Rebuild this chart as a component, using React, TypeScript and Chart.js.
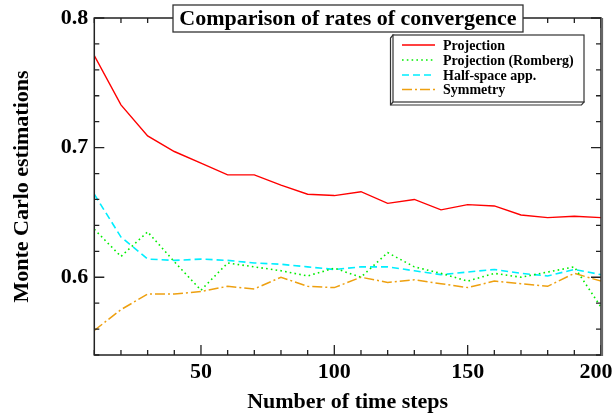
import React, { useEffect, useRef } from "react";
import { Chart, registerables } from "chart.js";

Chart.register(...registerables);

const steps = [10, 20, 30, 40, 50, 60, 70, 80, 90, 100, 110, 120, 130, 140, 150, 160, 170, 180, 190, 200];
const projection = [0.771, 0.733, 0.709, 0.697, 0.688, 0.679, 0.679, 0.671, 0.664, 0.663, 0.666, 0.657, 0.660, 0.652, 0.656, 0.655, 0.648, 0.646, 0.647, 0.646];
const romberg = [0.637, 0.616, 0.635, 0.612, 0.590, 0.611, 0.608, 0.605, 0.601, 0.607, 0.600, 0.619, 0.608, 0.603, 0.597, 0.603, 0.600, 0.604, 0.608, 0.577];
const halfSpace = [0.664, 0.631, 0.614, 0.613, 0.614, 0.613, 0.611, 0.610, 0.608, 0.606, 0.608, 0.608, 0.605, 0.602, 0.604, 0.606, 0.603, 0.601, 0.606, 0.602];
const symmetry = [0.559, 0.575, 0.587, 0.587, 0.589, 0.593, 0.591, 0.600, 0.593, 0.592, 0.600, 0.596, 0.598, 0.595, 0.592, 0.597, 0.595, 0.593, 0.603, 0.597];

const seriesNames = ["Projection", "Projection (Romberg)", "Half-space app.", "Symmetry"];
const xTickLabels = [50, 100, 150, 200];
const yTickLabels = [0.6, 0.7, 0.8];
const chartTitle = "Comparison of rates of convergence";
const xTitle = "Number of time steps";
const yTitle = "Monte Carlo estimations";

const FONT = "'Liberation Serif', 'Times New Roman', serif";

const isYMajor = (v: number) => yTickLabels.some((t) => Math.abs(t - v) < 1e-6);
const isXMajor = (v: number) => xTickLabels.some((t) => Math.abs(t - v) < 1e-6);

const framePlugin = {
  id: "framePlugin",
  afterDatasetsDraw(chart: any) {
    const { ctx, chartArea: a, scales } = chart;
    const x = scales.x;
    const y = scales.y;
    ctx.save();
    ctx.strokeStyle = "#222";
    ctx.lineWidth = 1.3;
    ctx.beginPath();
    x.ticks.forEach((t: any) => {
      const px = x.getPixelForValue(t.value);
      const len = isXMajor(t.value) ? 10 : 5;
      ctx.moveTo(px, a.bottom);
      ctx.lineTo(px, a.bottom - len);
      ctx.moveTo(px, a.top);
      ctx.lineTo(px, a.top + len);
    });
    y.ticks.forEach((t: any) => {
      const py = y.getPixelForValue(t.value);
      const len = isYMajor(t.value) ? 10 : 5;
      ctx.moveTo(a.left, py);
      ctx.lineTo(a.left + len, py);
      ctx.moveTo(a.right, py);
      ctx.lineTo(a.right - len, py);
    });
    ctx.stroke();
    ctx.lineWidth = 1.5;
    ctx.strokeRect(a.left, a.top, a.right - a.left, a.bottom - a.top);
    ctx.strokeStyle = "#666";
    ctx.lineWidth = 2.2;
    ctx.beginPath();
    ctx.moveTo(a.right + 1, a.top);
    ctx.lineTo(a.right + 1, a.bottom + 1);
    ctx.stroke();
    ctx.restore();
  },
  afterDraw(chart: any) {
    const { ctx } = chart;
    ctx.save();
    // Title box
    ctx.fillStyle = "#fff";
    ctx.fillRect(173, 5, 350, 27);
    ctx.strokeStyle = "#333";
    ctx.lineWidth = 1.3;
    ctx.strokeRect(173, 5, 350, 27);
    ctx.fillStyle = "#000";
    ctx.font = `bold 22px ${FONT}`;
    ctx.textAlign = "center";
    ctx.textBaseline = "alphabetic";
    ctx.fillText(chartTitle, 348, 25);

    // Legend 3D box
    const fx0 = 393, fy0 = 35, fx1 = 584, fy1 = 102;
    const dx = -2.5, dy = 3;
    ctx.fillStyle = "#fff";
    ctx.strokeStyle = "#333";
    ctx.lineWidth = 1.2;
    ctx.beginPath();
    ctx.moveTo(fx0, fy0);
    ctx.lineTo(fx0 + dx, fy0 + dy);
    ctx.lineTo(fx0 + dx, fy1 + dy);
    ctx.lineTo(fx1 + dx, fy1 + dy);
    ctx.lineTo(fx1, fy1);
    ctx.closePath();
    ctx.fill();
    ctx.stroke();
    ctx.beginPath();
    ctx.moveTo(fx0, fy1);
    ctx.lineTo(fx0 + dx, fy1 + dy);
    ctx.stroke();
    ctx.fillRect(fx0, fy0, fx1 - fx0, fy1 - fy0);
    ctx.strokeRect(fx0, fy0, fx1 - fx0, fy1 - fy0);

    const rows = [45, 60, 75, 89.5];
    ctx.font = `bold 14px ${FONT}`;
    ctx.textAlign = "left";
    ctx.textBaseline = "middle";
    chart.data.datasets.forEach((ds: any, i: number) => {
      const yy = rows[i];
      ctx.save();
      ctx.strokeStyle = ds.borderColor;
      ctx.lineWidth = ds.borderWidth;
      ctx.setLineDash(ds.borderDash || []);
      ctx.beginPath();
      ctx.moveTo(402, yy);
      ctx.lineTo(435, yy);
      ctx.stroke();
      ctx.restore();
      ctx.fillStyle = "#000";
      ctx.fillText(ds.label, 443, yy + 1);
    });
    ctx.restore();
  },
};

export default function App() {
  const ref = useRef<HTMLCanvasElement>(null);
  useEffect(() => {
    if (!ref.current) return;
    const mk = (v: number[]) => steps.map((s, i) => ({ x: s, y: v[i] }));
    const chart = new Chart(ref.current, {
      type: "line",
      data: {
        datasets: [
          { label: seriesNames[0], data: mk(projection), borderColor: "#ff0000", borderWidth: 1.4, borderDash: [], pointRadius: 0, tension: 0 },
          { label: seriesNames[1], data: mk(romberg), borderColor: "#00ee00", borderWidth: 1.6, borderDash: [1.6, 3.2], pointRadius: 0, tension: 0 },
          { label: seriesNames[2], data: mk(halfSpace), borderColor: "#00eeff", borderWidth: 1.6, borderDash: [7, 4], pointRadius: 0, tension: 0 },
          { label: seriesNames[3], data: mk(symmetry), borderColor: "#eea010", borderWidth: 1.5, borderDash: [10, 3, 2, 3], pointRadius: 0, tension: 0 },
        ],
      },
      options: {
        animation: false,
        responsive: true,
        maintainAspectRatio: false,
        layout: { padding: { left: 0, right: 12, top: 18, bottom: 0 } },
        plugins: { legend: { display: false }, title: { display: false }, tooltip: { enabled: false } },
        scales: {
          x: {
            type: "linear",
            min: 10,
            max: 200,
            grid: { display: false, drawTicks: false },
            border: { display: false },
            ticks: {
              stepSize: 10,
              autoSkip: false,
              maxRotation: 0,
              padding: 4,
              color: "#000",
              font: { family: FONT, weight: "bold", size: 22 },
              callback: (v: any) => {
                const n = Number(v);
                if (!isXMajor(n)) return "";
                return n === 200 ? "200 \u2009" : String(n);
              },
            },
            title: { display: true, text: xTitle, color: "#000", padding: { top: 0, bottom: 2 }, font: { family: FONT, weight: "bold", size: 22 } },
            afterFit: (s: any) => {
              s.height = 63;
              s.paddingLeft = 0;
              s.paddingRight = 0;
            },
          },
          y: {
            type: "linear",
            min: 0.54,
            max: 0.8,
            grid: { display: false, drawTicks: false },
            border: { display: false },
            ticks: {
              stepSize: 0.02,
              autoSkip: false,
              padding: 6,
              color: "#000",
              font: { family: FONT, weight: "bold", size: 22 },
              callback: (v: any) => (isYMajor(Number(v)) ? Number(v).toFixed(1) : ""),
            },
            title: { display: true, text: yTitle, color: "#000", padding: { top: 9, bottom: 0 }, font: { family: FONT, weight: "bold", size: 22 } },
            afterFit: (s: any) => {
              s.width = 94.3;
              s.paddingTop = 0;
              s.paddingBottom = 0;
            },
          },
        },
      },
      plugins: [framePlugin],
    } as any);
    return () => chart.destroy();
  }, []);
  return (
    <div style={{ position: "absolute", left: 0, top: 0, width: 613, height: 418, background: "#fff" }}>
      <canvas ref={ref} />
    </div>
  );
}
